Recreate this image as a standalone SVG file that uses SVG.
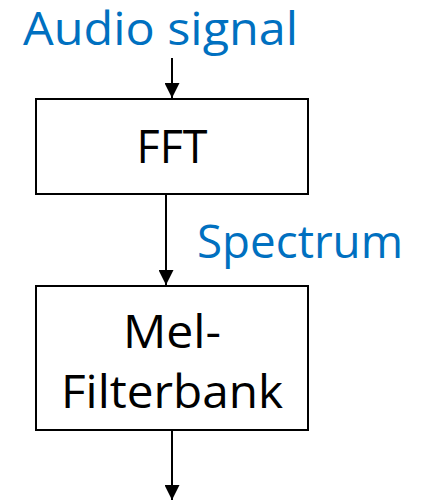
<svg xmlns="http://www.w3.org/2000/svg" width="422" height="500" viewBox="0 0 422 500">
<style>
.box{fill:#fff;stroke:#000;stroke-width:2}
.t{font-family:"Open Sans","Noto Sans","DejaVu Sans",sans-serif;font-size:45px;fill:#000;text-anchor:middle}
.lbl{font-family:"Open Sans","Noto Sans","DejaVu Sans",sans-serif;font-size:46px;fill:#0070C0}
.c{stroke:#000;stroke-width:2;fill:none}
</style>
<defs>
<marker id="ah" markerWidth="15" markerHeight="15" refX="15" refY="7.5" orient="auto" markerUnits="userSpaceOnUse">
<path d="M0,0 L15,7.5 L0,15 Z" fill="#000"/>
</marker>
</defs>
<rect width="422" height="500" fill="#fff"/>
<g id="label-audio"><text class="lbl" x="23" y="45" textLength="275" lengthAdjust="spacingAndGlyphs">Audio signal</text></g>
<g id="label-spectrum"><text class="lbl" x="197" y="258" textLength="206" lengthAdjust="spacingAndGlyphs">Spectrum</text></g>
<g id="fft"><rect class="box" x="36" y="99" width="272" height="95"/><text class="t" x="172" y="163" textLength="71" lengthAdjust="spacingAndGlyphs">FFT</text></g>
<g id="mel"><rect class="box" x="36" y="286" width="272" height="144"/><text class="t" x="172" y="348" textLength="98" lengthAdjust="spacingAndGlyphs">Mel-</text><text class="t" x="172" y="408" textLength="222" lengthAdjust="spacingAndGlyphs">Filterbank</text></g>
<g id="connectors">
<line class="c" x1="172" y1="58" x2="172" y2="98" marker-end="url(#ah)"/>
<line class="c" x1="166" y1="195" x2="166" y2="285" marker-end="url(#ah)"/>
<line class="c" x1="172" y1="431" x2="172" y2="500" marker-end="url(#ah)"/>
</g>
</svg>
